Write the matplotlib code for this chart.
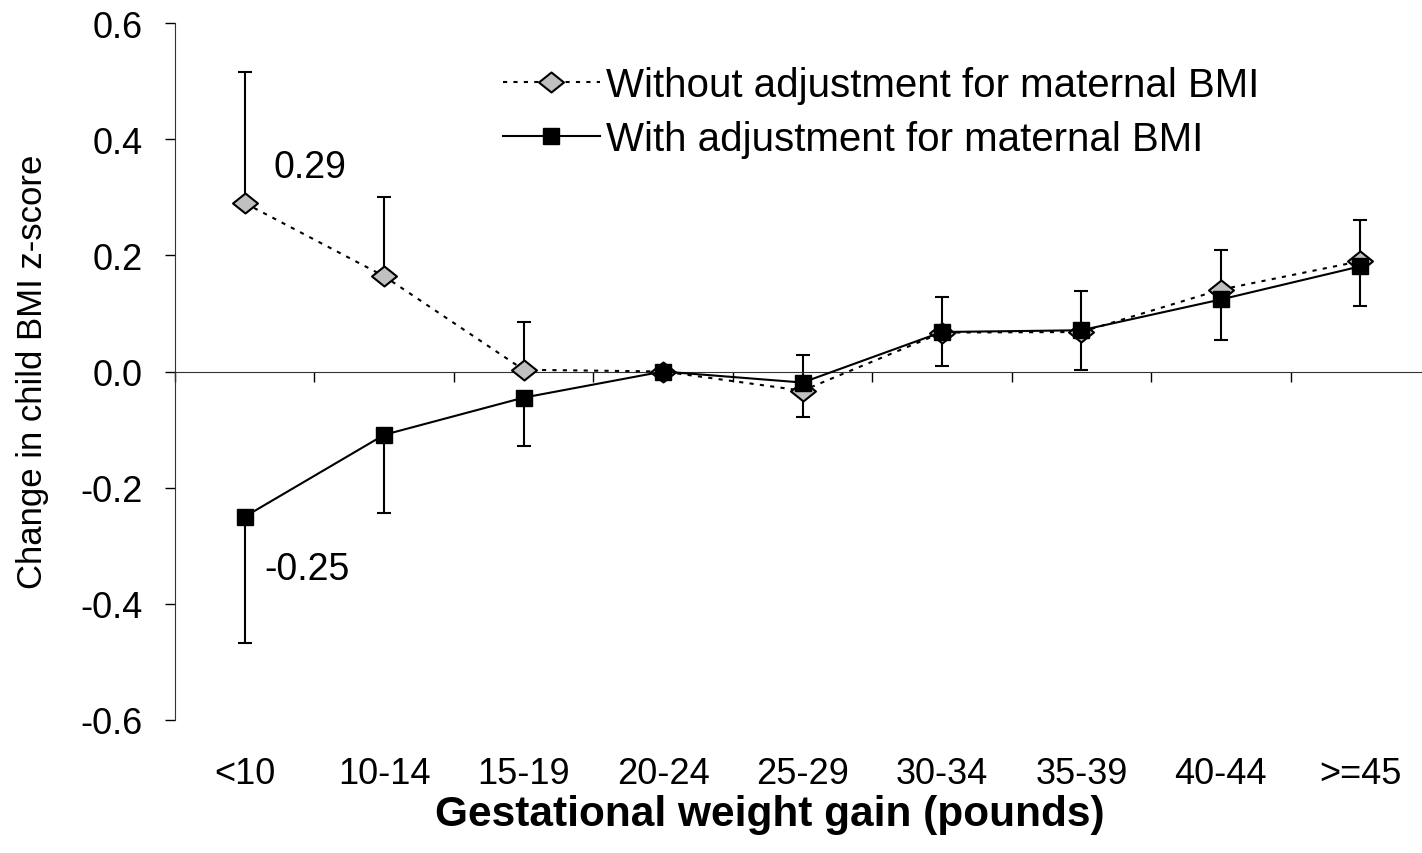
import numpy as np
import matplotlib
matplotlib.use("Agg")
import matplotlib.pyplot as plt
from matplotlib.path import Path

plt.rcParams["font.family"] = ["Liberation Sans", "DejaVu Sans"]

# Gestational weight gain categories (reference group: 20-24)
categories = ["<10", "10-14", "15-19", "20-24", "25-29", "30-34", "35-39", "40-44", ">=45"]

# Change in child BMI z-score, without adjustment for maternal BMI
without_adj = [0.29, 0.164, 0.003, 0.0, -0.033, 0.067, 0.068, 0.141, 0.19]
without_upper = [0.515, 0.30, 0.086, np.nan, 0.028, 0.129, 0.138, 0.21, 0.26]

# Change in child BMI z-score, with adjustment for maternal BMI
with_adj = [-0.25, -0.109, -0.045, 0.0, -0.019, 0.068, 0.071, 0.124, 0.181]
with_lower = [-0.468, -0.243, -0.129, np.nan, -0.079, 0.010, 0.002, 0.055, 0.112]

x = np.arange(len(categories))
wo = np.array(without_adj)
wi = np.array(with_adj)
wo_up = np.array(without_upper)
wi_lo = np.array(with_lower)

W, H = 1422, 854
fig = plt.figure(figsize=(W / 100, H / 100), dpi=100)
ax = fig.add_axes([175 / W, (H - 721) / H, (1430 - 175) / W, (721 - 24) / H])

# flattened diamond marker
diamond = Path([(-1, 0), (0, 0.8), (1, 0), (0, -0.8), (-1, 0)],
               [Path.MOVETO, Path.LINETO, Path.LINETO, Path.LINETO, Path.CLOSEPOLY])

# one-sided error bars: upper for unadjusted, lower for adjusted
m = ~np.isnan(wo_up)
ax.errorbar(x[m], wo[m], yerr=[np.zeros(m.sum()), wo_up[m] - wo[m]], fmt="none",
            ecolor="black", elinewidth=1.5, capsize=4.7, capthick=1.5, zorder=2)
m = ~np.isnan(wi_lo)
ax.errorbar(x[m], wi[m], yerr=[wi[m] - wi_lo[m], np.zeros(m.sum())], fmt="none",
            ecolor="black", elinewidth=1.5, capsize=4.7, capthick=1.5, zorder=2)

ax.plot(x, wo, color="black", lw=1.5, ls=(0, (2, 3)), marker=diamond, ms=18,
        mfc="#c0c0c0", mec="black", mew=1.5, zorder=3,
        label="Without adjustment for maternal BMI")
ax.plot(x, wi, color="black", lw=1.5, ls="-", marker="s", ms=11.5,
        mfc="black", mec="black", zorder=4,
        label="With adjustment for maternal BMI")

# value labels for the lowest weight-gain group
ax.annotate(f"{wo[0]:.2f}", xy=(x[0], wo[0]), xytext=(47, 26), textcoords="offset points",
            ha="center", va="center", fontsize=27)
ax.annotate(f"{wi[0]:.2f}", xy=(x[0], wi[0]), xytext=(45, -38), textcoords="offset points",
            ha="center", va="center", fontsize=27)

ax.set_xlim(-0.5, len(categories) - 0.5)
ax.set_ylim(-0.6, 0.6)
ax.set_yticks(np.arange(-0.6, 0.61, 0.2))
ax.yaxis.set_major_formatter(matplotlib.ticker.FormatStrFormatter("%.1f"))
ax.tick_params(axis="y", direction="out", length=7, width=1, pad=16, labelsize=26)

# x axis runs along zero with ticks between the groups
ax.spines["bottom"].set_position(("data", 0))
ax.spines["top"].set_visible(False)
ax.spines["right"].set_visible(False)
ax.spines["left"].set_color("#333333")
ax.spines["bottom"].set_color("#333333")
ax.set_xticks(np.arange(-0.5, len(categories), 1))
ax.set_xticklabels([])
ax.tick_params(axis="x", direction="out", length=7, width=1)

for xi, cat in zip(x, categories):
    ax.text(xi, -0.077, cat, transform=ax.get_xaxis_transform(),
            ha="center", va="center", fontsize=26)

fig.text(770 / W, 1 - 815 / H, "Gestational weight gain (pounds)",
         ha="center", va="center", fontsize=30.5, fontweight="bold")
fig.text(33 / W, 1 - 372 / H, "Change in child BMI z-score",
         ha="center", va="center", rotation=90, fontsize=25)

ax.legend(loc="upper left", bbox_to_anchor=(503 / W, 1 - 67 / H),
          bbox_transform=fig.transFigure, frameon=False, fontsize=29,
          numpoints=1, handlelength=2.4, handletextpad=0.15, labelspacing=0.4,
          borderpad=0, borderaxespad=0)

fig.savefig("out.png", dpi=100)
